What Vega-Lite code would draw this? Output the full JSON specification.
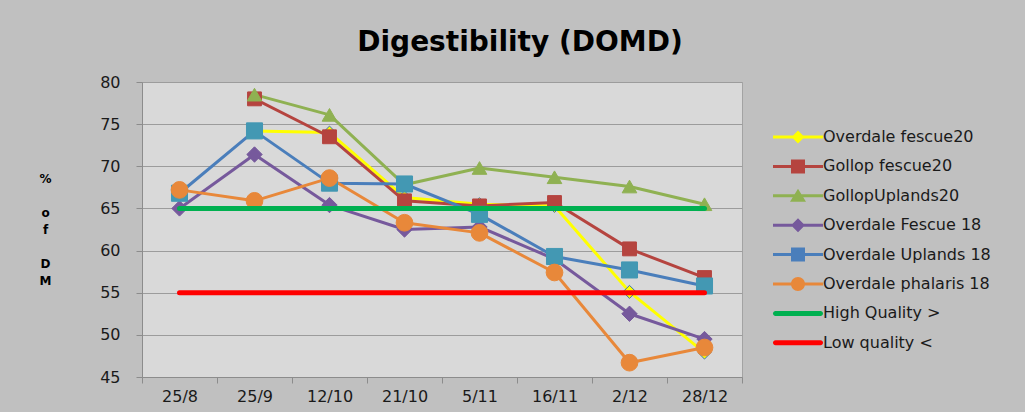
{
  "$schema": "https://vega.github.io/schema/vega-lite/v6.json",
  "width": 600,
  "height": 295,
  "autosize": {"type": "none"},
  "padding": {"left": 142, "top": 82, "right": 283, "bottom": 35},
  "background": "#c0c0c0",
  "title": {
    "text": "Digestibility (DOMD)",
    "font": "DejaVu Sans",
    "fontSize": 28,
    "fontWeight": "bold",
    "color": "#000000",
    "anchor": "middle",
    "dx": 78,
    "baseline": "alphabetic",
    "offset": -5
  },
  "data": {
    "values": [
      {"date": "25/9", "series": "Overdale fescue20", "value": 74.2},
      {"date": "12/10", "series": "Overdale fescue20", "value": 74.0},
      {"date": "21/10", "series": "Overdale fescue20", "value": 66.3},
      {"date": "5/11", "series": "Overdale fescue20", "value": 65.5},
      {"date": "16/11", "series": "Overdale fescue20", "value": 65.3},
      {"date": "2/12", "series": "Overdale fescue20", "value": 55.1},
      {"date": "28/12", "series": "Overdale fescue20", "value": 47.9},
      {"date": "25/9", "series": "Gollop fescue20", "value": 78.0},
      {"date": "12/10", "series": "Gollop fescue20", "value": 73.5},
      {"date": "21/10", "series": "Gollop fescue20", "value": 65.9},
      {"date": "5/11", "series": "Gollop fescue20", "value": 65.3},
      {"date": "16/11", "series": "Gollop fescue20", "value": 65.7},
      {"date": "2/12", "series": "Gollop fescue20", "value": 60.2},
      {"date": "28/12", "series": "Gollop fescue20", "value": 56.8},
      {"date": "25/9", "series": "GollopUplands20", "value": 78.5},
      {"date": "12/10", "series": "GollopUplands20", "value": 76.1},
      {"date": "21/10", "series": "GollopUplands20", "value": 67.8},
      {"date": "5/11", "series": "GollopUplands20", "value": 69.8},
      {"date": "16/11", "series": "GollopUplands20", "value": 68.7},
      {"date": "2/12", "series": "GollopUplands20", "value": 67.6},
      {"date": "28/12", "series": "GollopUplands20", "value": 65.5},
      {"date": "25/8", "series": "Overdale Fescue 18", "value": 65.0},
      {"date": "25/9", "series": "Overdale Fescue 18", "value": 71.4},
      {"date": "12/10", "series": "Overdale Fescue 18", "value": 65.4},
      {"date": "21/10", "series": "Overdale Fescue 18", "value": 62.5},
      {"date": "5/11", "series": "Overdale Fescue 18", "value": 62.8},
      {"date": "16/11", "series": "Overdale Fescue 18", "value": 59.0},
      {"date": "2/12", "series": "Overdale Fescue 18", "value": 52.5},
      {"date": "28/12", "series": "Overdale Fescue 18", "value": 49.5},
      {"date": "25/8", "series": "Overdale Uplands 18", "value": 66.8},
      {"date": "25/9", "series": "Overdale Uplands 18", "value": 74.2},
      {"date": "12/10", "series": "Overdale Uplands 18", "value": 68.0},
      {"date": "21/10", "series": "Overdale Uplands 18", "value": 67.9},
      {"date": "5/11", "series": "Overdale Uplands 18", "value": 64.3},
      {"date": "16/11", "series": "Overdale Uplands 18", "value": 59.3},
      {"date": "2/12", "series": "Overdale Uplands 18", "value": 57.7},
      {"date": "28/12", "series": "Overdale Uplands 18", "value": 55.8},
      {"date": "25/8", "series": "Overdale phalaris 18", "value": 67.2},
      {"date": "25/9", "series": "Overdale phalaris 18", "value": 65.9},
      {"date": "12/10", "series": "Overdale phalaris 18", "value": 68.6},
      {"date": "21/10", "series": "Overdale phalaris 18", "value": 63.3},
      {"date": "5/11", "series": "Overdale phalaris 18", "value": 62.1},
      {"date": "16/11", "series": "Overdale phalaris 18", "value": 57.4},
      {"date": "2/12", "series": "Overdale phalaris 18", "value": 46.7},
      {"date": "28/12", "series": "Overdale phalaris 18", "value": 48.5},
      {"date": "25/8", "series": "High Quality >", "value": 65},
      {"date": "28/12", "series": "High Quality >", "value": 65},
      {"date": "25/8", "series": "Low quality <", "value": 55},
      {"date": "28/12", "series": "Low quality <", "value": 55}
    ]
  },
  "encoding": {
    "x": {
      "field": "date",
      "type": "ordinal",
      "bandPosition": 0.5,
      "scale": {"type": "band", "domain": ["25/8", "25/9", "12/10", "21/10", "5/11", "16/11", "2/12", "28/12"], "paddingInner": 0, "paddingOuter": 0},
      "axis": {
        "title": null,
        "labelAngle": 0,
        "tickBand": "extent",
        "tickSize": 6,
        "tickColor": "#8c8c8c",
        "domainColor": "#8c8c8c",
        "labelPadding": 5,
        "labelFont": "DejaVu Sans",
        "labelFontSize": 16,
        "labelColor": "#1a1a1a",
        "grid": false
      }
    },
    "y": {
      "field": "value",
      "type": "quantitative",
      "scale": {"domain": [45, 80], "nice": false, "zero": false},
      "axis": {
        "values": [45, 50, 55, 60, 65, 70, 75, 80],
        "grid": true,
        "gridColor": "#9c9c9c",
        "gridWidth": 1,
        "tickSize": 6,
        "tickColor": "#8c8c8c",
        "domainColor": "#8c8c8c",
        "labelPadding": 16,
        "labelFont": "DejaVu Sans",
        "labelFontSize": 16,
        "labelColor": "#1a1a1a",
        "title": ["%", "\u200b", "o", "f", "\u2060", "D", "M"],
        "titleAngle": 0,
        "titleX": -97,
        "titleY": 91,
        "titleAlign": "center",
        "titleBaseline": "top",
        "titleLineHeight": 17,
        "titleFont": "DejaVu Sans",
        "titleFontSize": 12,
        "titleFontWeight": "bold",
        "titleColor": "#000000"
      }
    }
  },
  "layer": [
    {
      "transform": [{"filter": {"not": {"field": "series", "oneOf": ["High Quality >", "Low quality <"]}}}],
      "mark": {"type": "line", "strokeWidth": 3, "strokeJoin": "round"},
      "encoding": {
        "order": {"value": null},
        "color": {
          "field": "series",
          "type": "nominal",
          "scale": {
            "domain": ["Overdale fescue20", "Gollop fescue20", "GollopUplands20", "Overdale Fescue 18", "Overdale Uplands 18", "Overdale phalaris 18", "High Quality >", "Low quality <"],
            "range": ["#ffff00", "#b5443f", "#8fb152", "#76599c", "#4a7ebb", "#e8883a", "#00b050", "#ff0000"]
          },
          "legend": {
            "title": null,
            "orient": "none",
            "legendX": 628,
            "legendY": 47,
            "padding": 0,
            "symbolSize": 100,
            "labelOffset": 37,
            "labelFont": "DejaVu Sans",
            "labelFontSize": 16,
            "labelColor": "#1a1a1a",
            "labelLimit": 300,
            "rowPadding": 13.4,
            "encode": {
              "symbols": {
                "update": {
                  "shape": {"signal": "['M-1,-0.3H9V0.3H-1Z M4,-1.3L5.3,0L4,1.3L2.7,0Z', 'M-1,-0.3H9V0.3H-1Z M2.6,-1.4H5.4V1.4H2.6Z', 'M-1,-0.3H9V0.3H-1Z M4,-1.4L5.6,1.2H2.4Z', 'M-1,-0.3H9V0.3H-1Z M4,-1.4L5.4,0L4,1.4L2.6,0Z', 'M-1,-0.3H9V0.3H-1Z M2.6,-1.4H5.4V1.4H2.6Z', 'M-1,-0.3H9V0.3H-1Z M2.6,0A1.4,1.4 0 1,1 5.4,0A1.4,1.4 0 1,1 2.6,0Z', 'M-0.5,-0.5H8.5A0.5,0.5 0 0,1 8.5,0.5H-0.5A0.5,0.5 0 0,1 -0.5,-0.5Z', 'M-0.5,-0.5H8.5A0.5,0.5 0 0,1 8.5,0.5H-0.5A0.5,0.5 0 0,1 -0.5,-0.5Z'][indexof(['Overdale fescue20', 'Gollop fescue20', 'GollopUplands20', 'Overdale Fescue 18', 'Overdale Uplands 18', 'Overdale phalaris 18', 'High Quality >', 'Low quality <'], datum.value)]"},
                  "fill": {"scale": "color", "field": "value"},
                  "stroke": {"value": "transparent"},
                  "strokeWidth": {"value": 0},
                  "opacity": {"value": 1}
                }
              }
            }
          }
        }
      }
    },
    {
      "transform": [{"filter": {"not": {"field": "series", "oneOf": ["High Quality >", "Low quality <"]}}}],
      "mark": {"type": "point", "filled": true, "strokeWidth": 1, "opacity": 1},
      "encoding": {
        "shape": {
          "field": "series",
          "type": "nominal",
          "scale": {
            "domain": ["Overdale fescue20", "Gollop fescue20", "GollopUplands20", "Overdale Fescue 18", "Overdale Uplands 18", "Overdale phalaris 18"],
            "range": ["diamond", "square", "triangle-up", "diamond", "square", "circle"]
          },
          "legend": null
        },
        "fill": {
          "field": "series",
          "type": "nominal",
          "scale": {
            "domain": ["Overdale fescue20", "Gollop fescue20", "GollopUplands20", "Overdale Fescue 18", "Overdale Uplands 18", "Overdale phalaris 18"],
            "range": ["#ffff00", "#b5443f", "#8fb152", "#76599c", "#4398b3", "#e8883a"]
          },
          "legend": null
        },
        "stroke": {
          "field": "series",
          "type": "nominal",
          "scale": {
            "domain": ["Overdale fescue20", "Gollop fescue20", "GollopUplands20", "Overdale Fescue 18", "Overdale Uplands 18", "Overdale phalaris 18"],
            "range": ["#3c6fb0", "#b5443f", "#8fb152", "#76599c", "#4398b3", "#e8883a"]
          },
          "legend": null
        },
        "size": {
          "field": "series",
          "type": "nominal",
          "scale": {
            "domain": ["Overdale fescue20", "Gollop fescue20", "GollopUplands20", "Overdale Fescue 18", "Overdale Uplands 18", "Overdale phalaris 18"],
            "range": [170, 280, 300, 240, 280, 320]
          },
          "legend": null
        }
      }
    },
    {
      "transform": [{"filter": {"field": "series", "oneOf": ["High Quality >", "Low quality <"]}}],
      "mark": {"type": "line", "strokeWidth": 5, "strokeCap": "round"},
      "encoding": {
        "order": {"value": null},
        "color": {"field": "series", "type": "nominal"}
      }
    }
  ],
  "config": {
    "view": {"fill": "#d9d9d9", "stroke": "#a3a3a3"}
  }
}
